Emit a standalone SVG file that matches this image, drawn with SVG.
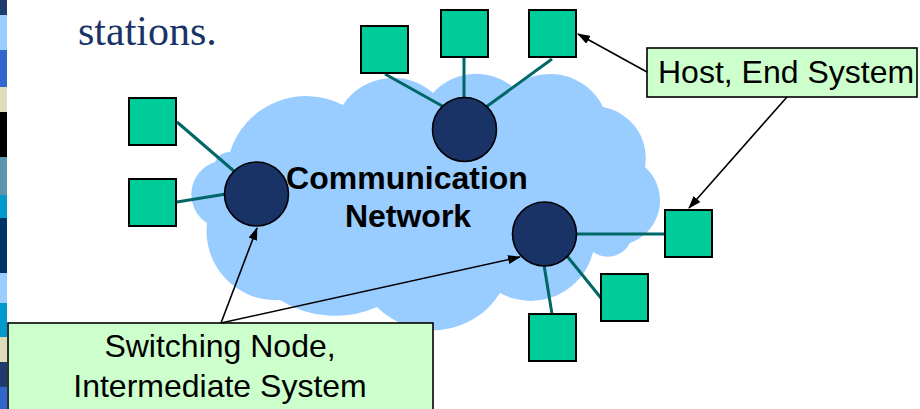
<svg xmlns="http://www.w3.org/2000/svg" width="920" height="409" viewBox="0 0 920 409">
<style>
.host{fill:#00cc99;stroke:#000;stroke-width:2}
.sw{fill:#1a3366;stroke:#000;stroke-width:1.6}
.link{stroke:#006666;stroke-width:3;fill:none}
.arrow{stroke:#000;stroke-width:1.6;fill:none;marker-end:url(#ah)}
.callout{fill:#ccffcc;stroke:#000;stroke-width:1.6}
.ct{font-family:"Liberation Sans",Arial,sans-serif;font-size:32px;fill:#000}
</style>
<defs>
<marker id="ah" markerUnits="userSpaceOnUse" markerWidth="13" markerHeight="9" refX="12" refY="4.5" orient="auto">
<path d="M0,0 L13,4.5 L0,9 z" fill="#000"/>
</marker>
</defs>
<rect width="920" height="409" fill="#fff"/>
<g id="stripe">
<rect x="0" y="0" width="7" height="15" fill="#1e3a6e"/>
<rect x="0" y="15" width="7" height="35" fill="#99ccff"/>
<rect x="0" y="50" width="7" height="37" fill="#3366cc"/>
<rect x="0" y="87" width="7" height="25" fill="#ddddbb"/>
<rect x="0" y="112" width="7" height="45" fill="#000"/>
<rect x="0" y="157" width="7" height="38" fill="#5b95b0"/>
<rect x="0" y="195" width="7" height="23" fill="#0099cc"/>
<rect x="0" y="218" width="7" height="55" fill="#003366"/>
<rect x="0" y="273" width="7" height="30" fill="#99ccff"/>
<rect x="0" y="303" width="7" height="34" fill="#0099cc"/>
<rect x="0" y="337" width="7" height="25" fill="#ddddbb"/>
<rect x="0" y="362" width="7" height="25" fill="#1e3a6e"/>
<rect x="0" y="387" width="7" height="22" fill="#3366cc"/>
</g>
<text x="78" y="45" font-family="'Liberation Serif','Times New Roman',serif" font-size="42" fill="#1a3366">stations.</text>
<g id="cloud">
<path d="M230,152 A80,80 0 0 1 343,105 A60,60 0 0 1 433,93 A58,58 0 0 1 513,87 A59,59 0 0 1 603,107 A52,52 0 0 1 645,167 A45,45 0 0 1 630,243 A25,25 0 0 1 593,252 A64,64 0 0 1 500,293 A79,79 0 0 1 377,307 A104,104 0 0 1 280,300 A69,69 0 0 1 207,223 A34,34 0 0 1 215,162 A15,15 0 0 1 230,152 Z" fill="#99ccff"/>
<text x="407" y="189" text-anchor="middle" font-family="'Liberation Sans',Arial,sans-serif" font-size="32" font-weight="bold" fill="#000">Communication</text>
<text x="408" y="227" text-anchor="middle" font-family="'Liberation Sans',Arial,sans-serif" font-size="32" font-weight="bold" fill="#000">Network</text>
</g>
<g id="connectors">
<line class="link" x1="177" y1="122" x2="235" y2="172"/>
<line class="link" x1="177" y1="202" x2="226" y2="194"/>
<line class="link" x1="385" y1="74" x2="444" y2="107"/>
<line class="link" x1="464" y1="58" x2="464" y2="99"/>
<line class="link" x1="552" y1="59" x2="486" y2="107"/>
<line class="link" x1="576" y1="234" x2="665" y2="234"/>
<line class="link" x1="567" y1="256" x2="601" y2="298"/>
<line class="link" x1="544" y1="265" x2="552" y2="314"/>
</g>
<g id="sw-left"><circle class="sw" cx="256.5" cy="194" r="32"/></g>
<g id="sw-top"><circle class="sw" cx="464.5" cy="129.5" r="32"/></g>
<g id="sw-right"><circle class="sw" cx="544.5" cy="234" r="32"/></g>
<g id="host1"><rect class="host" x="129" y="98" width="47" height="47"/></g>
<g id="host2"><rect class="host" x="129" y="179" width="47" height="47"/></g>
<g id="host3"><rect class="host" x="361" y="26" width="47" height="47"/></g>
<g id="host4"><rect class="host" x="441" y="10" width="47" height="47"/></g>
<g id="host5"><rect class="host" x="529" y="10" width="47" height="47"/></g>
<g id="host6"><rect class="host" x="665" y="210" width="47" height="47"/></g>
<g id="host7"><rect class="host" x="601" y="274" width="47" height="47"/></g>
<g id="host8"><rect class="host" x="529" y="314" width="47" height="47"/></g>
<g id="callout-host">
<rect class="callout" x="647" y="48" width="270" height="49"/>
<text class="ct" x="658" y="83">Host, End System</text>
</g>
<g id="callout-switch">
<rect class="callout" x="8" y="323" width="425" height="100"/>
<text class="ct" x="220" y="357" text-anchor="middle">Switching Node,</text>
<text class="ct" x="220" y="397" text-anchor="middle">Intermediate System</text>
</g>
<g id="arrows">
<line class="arrow" x1="647" y1="72" x2="578" y2="34"/>
<line class="arrow" x1="787" y1="97" x2="689" y2="208"/>
<line class="arrow" x1="221" y1="323" x2="257" y2="228"/>
<line class="arrow" x1="221" y1="323" x2="520" y2="257"/>
</g>
</svg>
